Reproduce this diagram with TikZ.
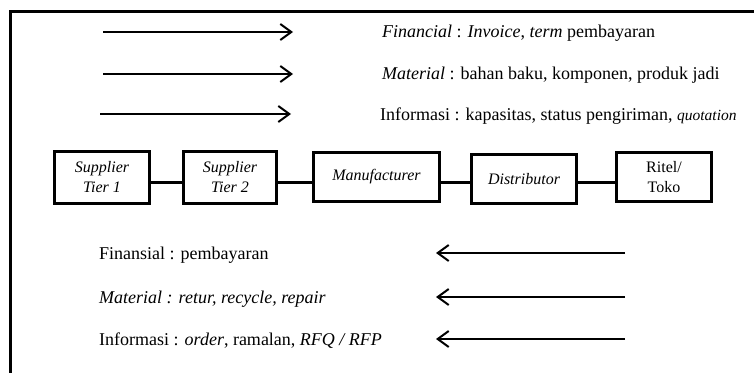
\documentclass[tikz,border=0pt]{standalone}
\usepackage{fontspec}
\setmainfont{Liberation Serif}
\usetikzlibrary{arrows.meta}
\begin{document}
\begin{tikzpicture}[x=1pt,y=-1pt,
  frame/.style={line width=3pt},
  flow/.style={line width=2pt,-{Straight Barb[length=11pt,width=16pt,line width=2pt]}},
  label/.style={anchor=base west,inner sep=0pt,font=\fontsize{18}{20}\selectfont},
  stage/.style={draw,line width=3pt,inner sep=0pt,align=center,
    font=\fontsize{16}{20}\selectfont},
  link/.style={line width=3pt}]
\useasboundingbox (0,0) rectangle (754,372);
% outer frame (top and left edges)
\draw[frame] (10.5,380) -- (10.5,11.5) -- (760,11.5);

% forward flows
\coordinate (fa1) at (103,32);  \coordinate (fa2) at (293,32);
\coordinate (fb1) at (103,74);  \coordinate (fb2) at (293,74);
\coordinate (fc1) at (100,114); \coordinate (fc2) at (291,114);
\draw[flow] (fa1) -- (fa2);
\draw[flow] (fb1) -- (fb2);
\draw[flow] (fc1) -- (fc2);
\node[label] (ta) at (382,37) {\textit{Financial} : \textit{Invoice}, \textit{term} pembayaran};
\node[label] (tb) at (382,79) {\textit{Material} : bahan baku, komponen, produk jadi};
\node[label] (tc) at (380,120) {Informasi : kapasitas, status pengiriman, {\fontsize{15.5}{18}\selectfont\textit{quotation}}};

% supply chain stages
\node[stage,minimum width=95pt,minimum height=52pt] (s1) at (102,177.5) {\itshape Supplier\\\itshape Tier 1};
\node[stage,minimum width=93pt,minimum height=52pt] (s2) at (230,177.5) {\itshape Supplier\\\itshape Tier 2};
\node[stage,minimum width=126pt,minimum height=49pt] (mf) at (376.5,177) {\itshape Manufacturer};
\node[stage,minimum width=105pt,minimum height=49pt] (ds) at (524,179) {\itshape Distributor};
\node[stage,minimum width=95pt,minimum height=49pt] (rt) at (664,177) {Ritel/\\Toko};
\draw[link] (s1.east |- 0,182) -- (s2.west |- 0,182);
\draw[link] (s2.east |- 0,182) -- (mf.west |- 0,182);
\draw[link] (mf.east |- 0,182) -- (ds.west |- 0,182);
\draw[link] (ds.east |- 0,182) -- (rt.west |- 0,182);

% return flows
\coordinate (ra1) at (625,253); \coordinate (ra2) at (436,253);
\coordinate (rb1) at (625,297); \coordinate (rb2) at (436,297);
\coordinate (rc1) at (625,339); \coordinate (rc2) at (436,339);
\draw[flow] (ra1) -- (ra2);
\draw[flow] (rb1) -- (rb2);
\draw[flow] (rc1) -- (rc2);
\node[label] (ua) at (99,259) {Finansial : pembayaran};
\node[label] (ub) at (99,303) {\textit{Material : retur, recycle, repair}};
\node[label] (uc) at (99,345) {Informasi : \textit{order}, ramalan, \textit{RFQ / RFP}};
\end{tikzpicture}
\end{document}
